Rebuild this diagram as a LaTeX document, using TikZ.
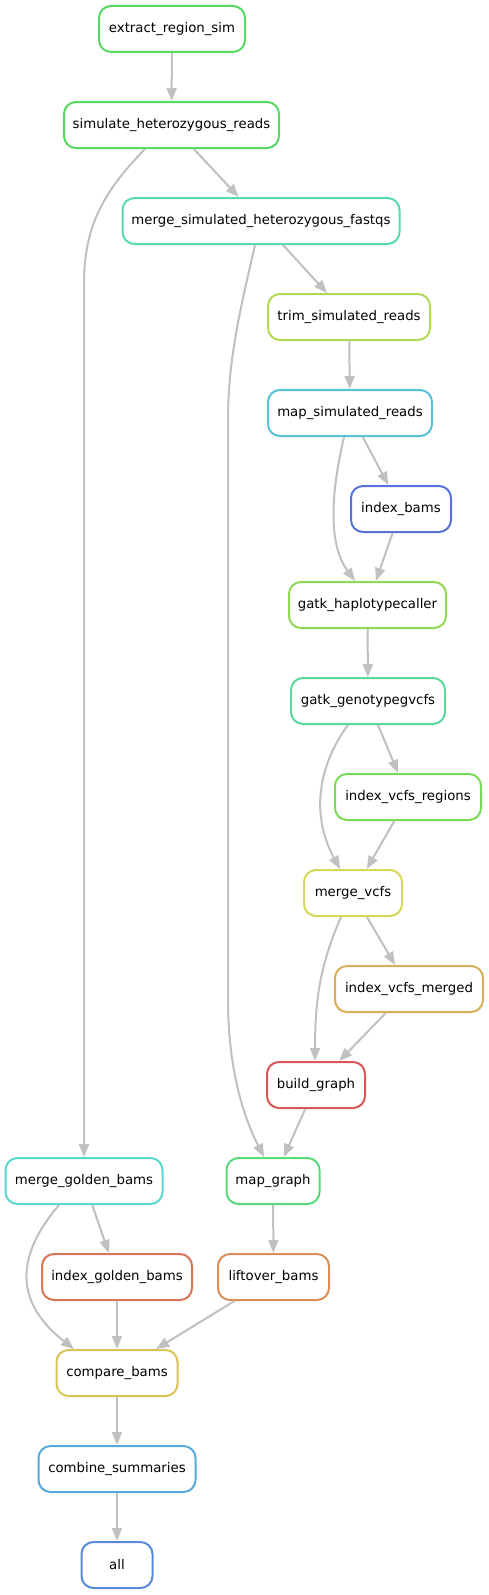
\documentclass[tikz,border=0pt]{standalone}
\usepackage{fontspec}
\setmainfont{DejaVu Sans}
\usetikzlibrary{arrows.meta,calc}
\definecolor{edgegray}{RGB}{192,192,192}
\definecolor{cExtract}{RGB}{87,217,100}
\definecolor{cSim}{RGB}{87,217,100}
\definecolor{cMf}{RGB}{87,217,178}
\definecolor{cTrim}{RGB}{176,217,87}
\definecolor{cMapSim}{RGB}{87,193,217}
\definecolor{cIb}{RGB}{87,115,217}
\definecolor{cHaplo}{RGB}{143,217,87}
\definecolor{cGeno}{RGB}{87,217,154}
\definecolor{cIvr}{RGB}{122,217,87}
\definecolor{cMvcf}{RGB}{214,217,87}
\definecolor{cIvm}{RGB}{217,174,87}
\definecolor{cBuild}{RGB}{217,87,87}
\definecolor{cMgb}{RGB}{87,217,208}
\definecolor{cMapg}{RGB}{87,217,124}
\definecolor{cIgb}{RGB}{217,117,87}
\definecolor{cLift}{RGB}{217,141,87}
\definecolor{cCmp}{RGB}{217,195,87}
\definecolor{cComb}{RGB}{87,169,217}
\definecolor{cAll}{RGB}{87,139,217}
\begin{document}
\begin{tikzpicture}[x=1pt,y=-1pt,
  rule/.style={draw=#1, line width=2pt, rounded corners=12pt, minimum height=46pt,
    inner sep=0pt, fill=white, font=\fontsize{13.3}{16}\selectfont},
  edge/.style={draw=edgegray, line width=2pt, -{Triangle[length=13pt,width=10pt]}}]
\useasboundingbox[fill=white] (0,0) rectangle (489,1595);

\node[rule=cExtract, minimum width=146pt] (ext) at (172,29) {extract\_region\_sim};
\node[rule=cSim, minimum width=215pt] (sim) at (171.5,125) {simulate\_heterozygous\_reads};
\node[rule=cMf, minimum width=277pt] (mf) at (261,221) {merge\_simulated\_heterozygous\_fastqs};
\node[rule=cTrim, minimum width=162pt] (trim) at (349,317) {trim\_simulated\_reads};
\node[rule=cMapSim, minimum width=164pt] (mapsim) at (350,413) {map\_simulated\_reads};
\node[rule=cIb, minimum width=100pt] (ib) at (401,509) {index\_bams};
\node[rule=cHaplo, minimum width=157pt] (haplo) at (367.5,605) {gatk\_haplotypecaller};
\node[rule=cGeno, minimum width=154pt] (geno) at (368,701) {gatk\_genotypegvcfs};
\node[rule=cIvr, minimum width=146pt] (ivr) at (408,797) {index\_vcfs\_regions};
\node[rule=cMvcf, minimum width=98pt] (mvcf) at (353,893) {merge\_vcfs};
\node[rule=cIvm, minimum width=148pt] (ivm) at (409,989) {index\_vcfs\_merged};
\node[rule=cBuild, minimum width=98pt] (build) at (316,1085) {build\_graph};
\node[rule=cMgb, minimum width=157pt] (mgb) at (84,1181) {merge\_golden\_bams};
\node[rule=cMapg, minimum width=93pt] (mapg) at (273,1181) {map\_graph};
\node[rule=cIgb, minimum width=150pt] (igb) at (117,1277) {index\_golden\_bams};
\node[rule=cLift, minimum width=111pt] (lift) at (273.5,1277) {liftover\_bams};
\node[rule=cCmp, minimum width=121pt] (cmp) at (117,1373) {compare\_bams};
\node[rule=cComb, minimum width=157pt] (comb) at (117,1469) {combine\_summaries};
\node[rule=cAll, minimum width=71pt] (all) at (117,1565) {all};

\draw[edge] (ext) -- (sim);
\draw[edge] (sim) -- (mf);
\draw[edge] ($(sim.south)+(-26.5,0)$) .. controls (100,195) and (84,230) .. (84,285) -- (mgb.north);
\draw[edge] (mf) -- (trim);
\draw[edge] ($(mf.south)+(-6,0)$) .. controls (240,310) and (228,360) .. (228,420)
   -- (228,1000) .. controls (228,1060) and (240,1110) .. ($(mapg.north)+(-9,0)$);
\draw[edge] (trim) -- (mapsim);
\draw[edge] (mapsim) -- (ib);
\draw[edge] ($(mapsim.south)+(-6,0)$) .. controls (334,480) and (325,540) .. ($(haplo.north)+(-12.5,0)$);
\draw[edge] (ib) -- (haplo);
\draw[edge] (haplo) -- (geno);
\draw[edge] (geno) -- (ivr);
\draw[edge] ($(geno.south)+(-20,0)$) .. controls (322,760) and (308,810) .. ($(mvcf.north)+(-13,0)$);
\draw[edge] (ivr) -- (mvcf);
\draw[edge] (mvcf) -- (ivm);
\draw[edge] ($(mvcf.south)+(-12,0)$) .. controls (320,965) and (315,1000) .. ($(build.north)+(-1,0)$);
\draw[edge] (ivm) -- (build);
\draw[edge] (build) -- (mapg);
\draw[edge] (mgb) -- (igb);
\draw[edge] ($(mgb.south)+(-25,0)$) .. controls (25,1245) and (5,1295) .. ($(cmp.north)+(-43,0)$);
\draw[edge] (igb) -- (cmp);
\draw[edge] (mapg) -- (lift);
\draw[edge] (lift) -- (cmp);
\draw[edge] (cmp) -- (comb);
\draw[edge] (comb) -- (all);
\end{tikzpicture}
\end{document}
